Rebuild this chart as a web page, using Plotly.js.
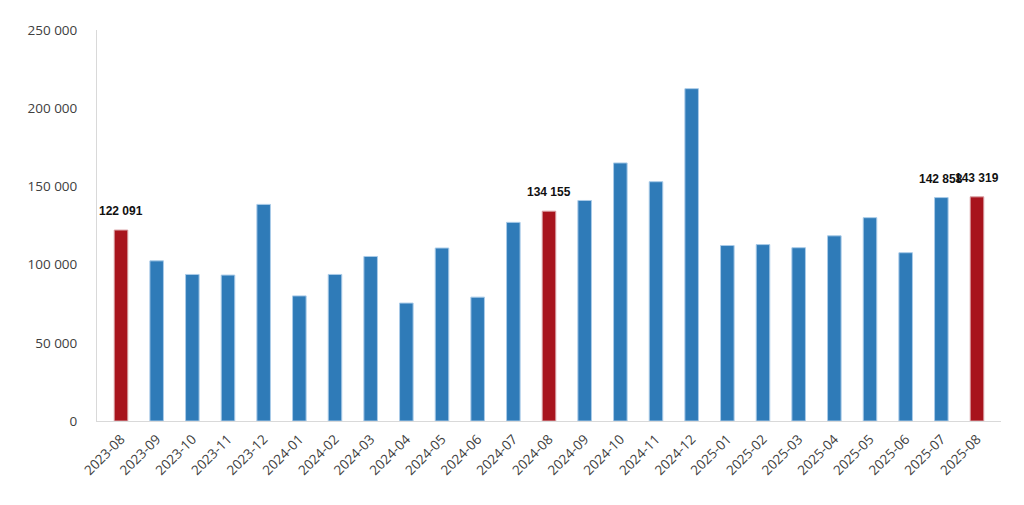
<!DOCTYPE html>
<html>
<head>
<meta charset="utf-8">
<script src="https://cdn.plot.ly/plotly-3.0.1.min.js"></script>
<style>html,body{margin:0;padding:0;background:#fff;}#chart{width:1024px;height:505px;}</style>
</head>
<body>
<div id="chart"></div>
<script>
const months = ['2023-08','2023-09','2023-10','2023-11','2023-12','2024-01','2024-02','2024-03','2024-04','2024-05','2024-06','2024-07','2024-08','2024-09','2024-10','2024-11','2024-12','2025-01','2025-02','2025-03','2025-04','2025-05','2025-06','2025-07','2025-08'];
const values = [122091,102400,93700,93300,138500,80000,93700,105200,75400,110600,79200,127000,134155,141000,165000,153000,212500,112200,112800,110800,118400,130000,107600,142858,143319];
const highlightMonths = ['2023-08','2024-08','2025-08'];
const labelMonths = ['2023-08','2024-08','2025-07','2025-08'];
const yTicks = [0,50000,100000,150000,200000,250000];

const BLUE = '#2f7bb8', RED = '#a8141d';
const colors = months.map(m => highlightMonths.includes(m) ? RED : BLUE);
const lineColors = months.map(m => highlightMonths.includes(m) ? '#d9a0a4' : '#a9cbe8');

function fmt(v){ return String(v).replace(/\B(?=(\d{3})+(?!\d))/g, ' '); }

const trace = {
  type: 'bar', x: months, y: values,
  marker: {color: colors, line: {color: lineColors, width: 1}},
  hoverinfo: 'none'
};

const annotations = months.map((m,i) => labelMonths.includes(m) ? {
  x: m, y: values[i], text: '<b>' + fmt(values[i]) + '</b>', showarrow: false,
  yanchor: 'bottom', yshift: 10,
  font: {family: 'Liberation Sans, Arial, sans-serif', size: 12, color: '#111'}
} : null).filter(a => a);

const layout = {
  width: 1024, height: 505,
  margin: {l: 97, r: 23, t: 30, b: 84},
  paper_bgcolor: '#fff', plot_bgcolor: '#fff',
  bargap: 0.62,
  showlegend: false,
  font: {family: 'Open Sans, sans-serif', size: 13.5, color: '#404040'},
  xaxis: {
    type: 'category', tickangle: -45, showline: true, linecolor: '#d9d9d9', linewidth: 1,
    ticks: '', showgrid: false, ticklabelstandoff: 4, tickfont: {size: 13.5, color: '#404040'}
  },
  yaxis: {
    range: [0, 250000], tickvals: yTicks, ticktext: yTicks.map(fmt),
    showline: true, linecolor: '#d9d9d9', linewidth: 1, showgrid: false, zeroline: false,
    ticks: '', ticklabelstandoff: 16, tickfont: {size: 13.5, color: '#404040'}
  },
  annotations: annotations
};

Plotly.newPlot('chart', [trace], layout, {staticPlot: true, displayModeBar: false});
</script>
</body>
</html>
